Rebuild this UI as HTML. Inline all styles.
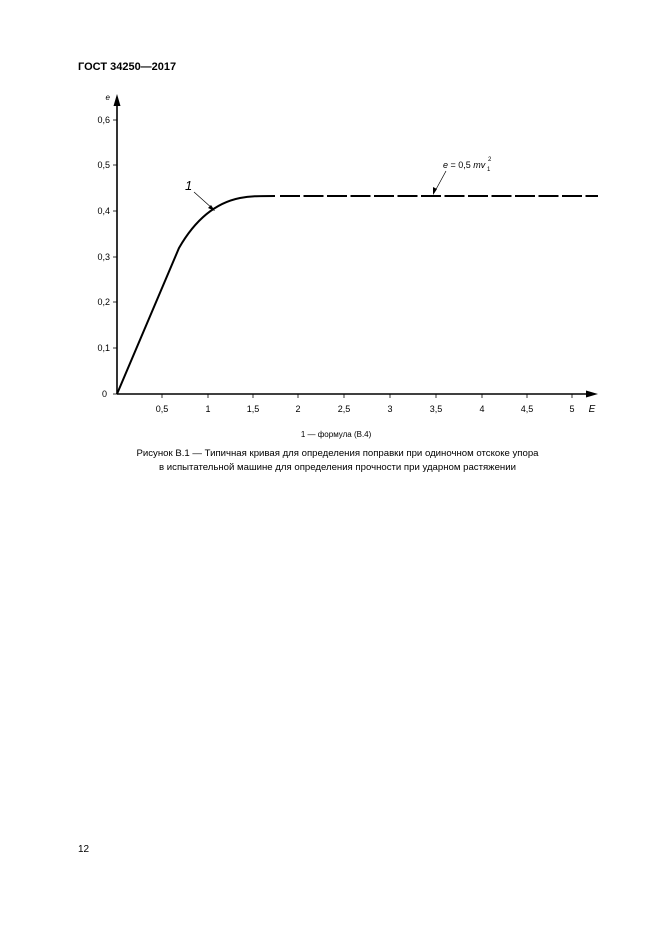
<!DOCTYPE html>
<html><head><meta charset="utf-8"><style>
body{margin:0;background:#fff;width:661px;height:936px;position:relative;overflow:hidden;font-family:"Liberation Sans",Arial,sans-serif;color:#000}
.t{position:absolute;white-space:nowrap}
</style></head><body>
<div class="t" style="left:78px;top:61px;font-size:11px;font-weight:bold">ГОСТ 34250—2017</div>
<svg width="661" height="936" style="position:absolute;left:0;top:0" font-family="Liberation Sans, Arial, sans-serif" font-size="9">
<line x1="117" y1="394" x2="117" y2="104" stroke="#000" stroke-width="1.6"/>
<polygon points="117,94 113.5,106 120.5,106" fill="#000"/>
<line x1="117" y1="394" x2="589" y2="394" stroke="#000" stroke-width="1.6"/>
<polygon points="598,394 586,390.5 586,397.5" fill="#000"/>
<text x="110" y="100" font-style="italic" font-size="8" text-anchor="end">e</text>
<g stroke="#000" stroke-width="0.8">
<line x1="113" y1="120" x2="117" y2="120"/><line x1="113" y1="165" x2="117" y2="165"/><line x1="113" y1="211" x2="117" y2="211"/><line x1="113" y1="257" x2="117" y2="257"/><line x1="113" y1="302" x2="117" y2="302"/><line x1="113" y1="348" x2="117" y2="348"/><line x1="113" y1="394" x2="117" y2="394"/>
<line x1="162" y1="394" x2="162" y2="398"/><line x1="208" y1="394" x2="208" y2="398"/><line x1="253" y1="394" x2="253" y2="398"/><line x1="298" y1="394" x2="298" y2="398"/><line x1="344" y1="394" x2="344" y2="398"/><line x1="390" y1="394" x2="390" y2="398"/><line x1="436" y1="394" x2="436" y2="398"/><line x1="482" y1="394" x2="482" y2="398"/><line x1="527" y1="394" x2="527" y2="398"/><line x1="572" y1="394" x2="572" y2="398"/>
</g>
<g text-anchor="end">
<text x="110" y="123">0,6</text><text x="110" y="168">0,5</text><text x="110" y="214">0,4</text><text x="110" y="260">0,3</text><text x="110" y="305">0,2</text><text x="110" y="351">0,1</text><text x="107" y="397">0</text>
</g>
<g text-anchor="middle">
<text x="162" y="412">0,5</text><text x="208" y="412">1</text><text x="253" y="412">1,5</text><text x="298" y="412">2</text><text x="344" y="412">2,5</text><text x="390" y="412">3</text><text x="436" y="412">3,5</text><text x="482" y="412">4</text><text x="527" y="412">4,5</text><text x="572" y="412">5</text>
</g>
<text x="592" y="412" font-style="italic" font-size="10" text-anchor="middle">E</text>
<path d="M117,394 L179,248 C195,220 215,203 240,198 C250,196 258,196 275,196" fill="none" stroke="#000" stroke-width="2"/>
<line x1="280" y1="196" x2="598" y2="196" stroke="#000" stroke-width="2" stroke-dasharray="20,3.5"/>
<text x="185" y="190" font-style="italic" font-size="13">1</text>
<line x1="194" y1="192" x2="213" y2="209" stroke="#000" stroke-width="0.7"/>
<polygon points="215,211 208,208 211,205" fill="#000"/>
<text x="443" y="168" font-size="9"><tspan font-style="italic">e</tspan> = 0,5 <tspan font-style="italic">mv</tspan></text>
<text x="488" y="161" font-size="6">2</text><text x="487" y="171" font-size="6">1</text>
<line x1="446" y1="171" x2="434" y2="193" stroke="#000" stroke-width="0.7"/>
<polygon points="433,195 433,187 437,189" fill="#000"/>
</svg>
<div class="t" style="left:0;width:661px;text-align:center;top:430px;font-size:8px;">&nbsp;&nbsp;&nbsp;&nbsp;&nbsp;1 — формула (В.4)</div>
<div class="t" style="left:0;width:675px;text-align:center;top:447px;font-size:9.6px;line-height:14px">Рисунок В.1 — Типичная кривая для определения поправки при одиночном отскоке упора<br>в испытательной машине для определения прочности при ударном растяжении</div>
<div class="t" style="left:78px;top:844px;font-size:10px">12</div>
</body></html>
